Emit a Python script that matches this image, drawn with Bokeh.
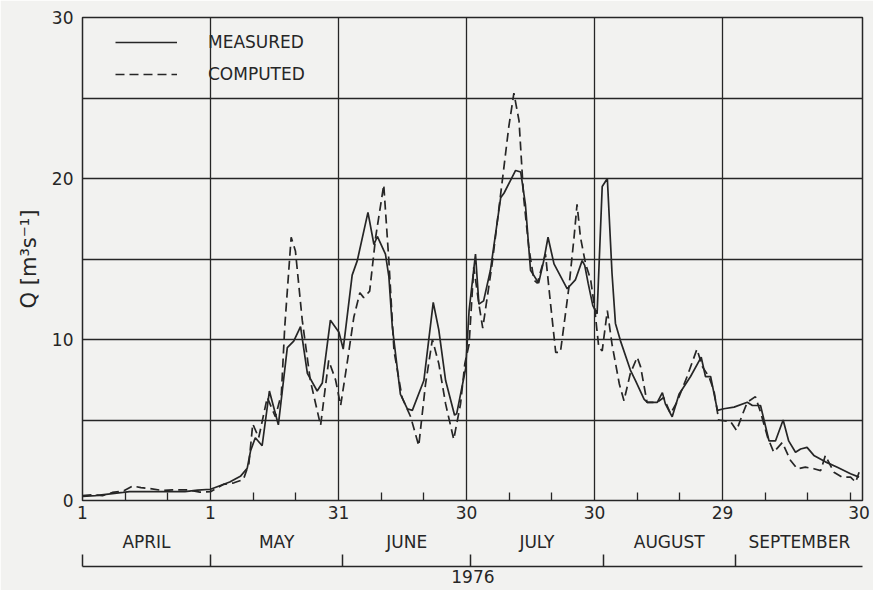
from bokeh.plotting import figure
from bokeh.models import (LinearAxis, FixedTicker, Range1d, Legend, LegendItem,
                          ColumnDataSource)
from bokeh.embed import file_html
from bokeh.resources import INLINE

# Day index: 0 = 1 April 1976
meas_day = [0, 3, 6, 9.5, 11, 16, 20, 24, 27, 30, 32.5, 34.5, 37, 38.6, 39.4, 40.5,
            42.1, 43.8, 45.9, 48, 49.5, 51.1, 52.7, 55, 56.2, 58.1, 60.1, 61.1, 63.2,
            64.4, 66.9, 68.3, 69.1, 71, 71.8, 72.6, 74.5, 76.1, 77.3, 80, 82.2, 83.5,
            85.1, 87.2, 87.7, 89.8, 90.6, 92.1, 92.9, 94, 95.6, 98, 98.8, 101.5, 102.7,
            103.8, 105, 106.9, 108.1, 109.1, 110.5, 113.6, 115.5, 117.1, 117.7, 118.5,
            119.6, 120.6, 121.8, 123, 124.1, 124.9, 126.1, 128.4, 129.6, 131.6, 132.3,
            134.7, 135.9, 136.6, 138.2, 139.8, 142.5, 145, 146, 147.2, 148.8, 150.3,
            152.7, 155.8, 157, 158.9, 160.9, 162.4, 164.2, 165.5, 167.1, 168.3, 169.8,
            171.4, 174.1, 176.9, 180, 182]
meas_q = [0.25, 0.3, 0.4, 0.5, 0.55, 0.55, 0.55, 0.55, 0.65, 0.7, 0.95, 1.15, 1.5, 2.0,
          3.1, 3.9, 3.4, 6.8, 4.7, 9.5, 9.9, 10.8, 7.9, 6.8, 7.3, 11.2, 10.45, 9.4, 14.0,
          14.9, 17.9, 15.9, 16.4, 15.3, 13.9, 10.8, 6.6, 5.7, 5.6, 7.45, 12.3, 10.6,
          7.45, 5.3, 5.4, 8.2, 11.8, 15.3, 12.2, 12.4, 14.3, 18.8, 19.1, 20.5, 20.4,
          18.4, 14.3, 13.5, 14.9, 16.35, 14.7, 13.15, 13.7, 14.9, 14.6, 13.5,
          12.1, 11.6, 19.5, 20.0, 14.1, 11.0, 9.9, 8.1, 7.45, 6.3, 6.1,
          6.1, 6.7, 6.0, 5.2, 6.6, 7.7, 8.9, 7.7, 7.7, 5.6, 5.7,
          5.8, 6.1, 5.9, 5.9, 3.7, 3.7, 5.0, 3.7, 3.0, 3.2, 3.3,
          2.8, 2.4, 2.07, 1.66, 1.45]

comp_day = [0, 2.3, 4.7, 7, 9.7, 11.8, 13.7, 15.6, 18.8, 21.1, 24.6, 27.5, 30, 33, 35.5,
            37.7, 39, 39.9, 41.3, 43.3, 45.2, 46.6, 47.4, 48.9, 49.9, 51.5, 53.4, 55.8,
            57.7, 59.3, 60.5, 62, 63.6, 65, 65.9, 67.3, 68.7, 70.6, 71.8, 73, 74.9, 76.9,
            78.8, 80.4, 82, 83.5, 85.1, 87, 88.6, 89.6, 90.6, 91.7, 92.9, 93.8, 96, 98.4,
            99.9, 101.1, 102.3, 103.4, 104.6, 105.8, 106.6, 108.5, 109.7, 110.9, 112,
            114, 115.2, 115.9, 116.7, 117.9, 119.1, 120, 121, 121.8, 123, 124.1, 125.8,
            126.9, 128.4, 130, 130.8, 132.3, 134.7, 136.2, 137.8, 139.3, 141.7, 144,
            145.3, 146.8, 148, 149.1, 151.9, 153.3, 154.6, 155.8, 157.7, 158.9, 160.6,
            162, 164, 165.9, 167.5, 169.4, 171.4, 173, 174.1, 176.1, 178, 180, 181.2, 182]
comp_q = [0.3, 0.35, 0.3, 0.5, 0.6, 0.9, 0.8, 0.75, 0.62, 0.66, 0.66, 0.52, 0.55, 1.0, 1.1,
          1.3, 2.3, 4.76, 3.9, 6.4, 5.2, 6.6, 10.8, 16.35, 15.5, 11.2, 7.45, 4.66,
          8.7, 7.5, 5.9, 8.5, 11.4, 12.9, 12.6, 13.0, 16.35, 19.6, 14.9, 9.3, 6.4, 5.2,
          3.4, 7.25, 10.0, 8.5, 6.0, 3.8, 6.0, 8.5, 9.7, 14.5, 12.2, 10.7, 14.7, 19.9,
          23.2, 25.3, 23.6, 18.8, 15.7, 13.7, 13.5, 15.3, 12.2, 9.2, 9.2,
          13.25, 16.35, 18.4, 16.35, 14.7, 13.7, 12.0, 9.5, 9.3, 11.8, 9.7, 7.25,
          6.2, 7.9, 8.9, 8.3, 6.1, 6.1, 6.4, 5.4, 6.1, 7.7, 9.4,
          8.3, 7.7, 6.8, 5.0, 4.9, 4.35, 5.3, 6.1, 6.45, 5.5, 3.9,
          3.0, 3.6, 2.5, 1.97, 2.07, 1.97, 1.86, 2.8, 1.76, 1.45, 1.45, 1.14, 1.76]

grid_days = [0, 30, 60, 90, 120, 150, 182]
grid_day_labels = ["1", "1", "31", "30", "30", "29", "30"]
minor_days = [10, 20, 40, 50, 70, 80, 100, 110, 130, 140, 160, 170, 180]
month_starts = [0, 30, 61, 91, 122, 153, 183]
month_names = ["APRIL", "MAY", "JUNE", "JULY", "AUGUST", "SEPTEMBER"]
year_label = "1976"
y_ticks = [0, 10, 20, 30]
y_grid = [5, 10, 15, 20, 25]

INK = "#262626"
PAPER = "#f2f2f0"
FONT = "DejaVu Sans"

p = figure(width=873, height=590, x_range=Range1d(0, 182.8), y_range=Range1d(0, 30),
           output_backend="svg", toolbar_location=None,
           x_axis_location=None, y_axis_location=None,
           min_border_left=82, min_border_right=11, min_border_top=17, min_border_bottom=90)
p.background_fill_color = PAPER
p.border_fill_color = PAPER
p.outline_line_color = INK
p.outline_line_width = 1.5

# grids
p.xgrid.ticker = FixedTicker(ticks=grid_days[1:-1])
p.ygrid.ticker = FixedTicker(ticks=y_grid)
for g in (p.xgrid[0], p.ygrid[0]):
    g.grid_line_color = INK
    g.grid_line_width = 1.3

# y axis
yax = LinearAxis(ticker=FixedTicker(ticks=y_ticks), axis_label="Q [m³s⁻¹]")
yax.axis_line_color = None
yax.major_tick_line_color = None
yax.major_tick_in = 0
yax.major_tick_out = 0
yax.minor_tick_line_color = None
yax.major_label_standoff = 9
yax.major_label_text_font = FONT
yax.major_label_text_font_size = "17px"
yax.major_label_text_color = INK
yax.axis_label_text_font = FONT
yax.axis_label_text_font_size = "21px"
yax.axis_label_text_font_style = "normal"
yax.axis_label_text_color = INK
yax.axis_label_standoff = 8
p.add_layout(yax, "left")

# day axis
dax = LinearAxis(ticker=FixedTicker(ticks=grid_days, minor_ticks=minor_days))
dax.major_label_overrides = {d: s for d, s in zip(grid_days, grid_day_labels)}
dax.axis_line_color = None
dax.major_tick_line_color = None
dax.major_tick_in = 0
dax.major_tick_out = 0
dax.minor_tick_line_color = INK
dax.minor_tick_line_width = 1.3
dax.minor_tick_in = 8
dax.minor_tick_out = 0
dax.major_label_standoff = 5
dax.major_label_text_font = FONT
dax.major_label_text_font_size = "17px"
dax.major_label_text_color = INK
p.add_layout(dax, "below")

# month axis
mids = [(a + b) / 2 for a, b in zip(month_starts[:-1], month_starts[1:])]
max_ = LinearAxis(ticker=FixedTicker(ticks=mids))
max_.major_label_overrides = {m: s for m, s in zip(mids, month_names)}
max_.axis_line_color = None
max_.major_tick_line_color = None
max_.major_tick_in = 0
max_.major_tick_out = 0
max_.minor_tick_line_color = None
max_.major_label_standoff = 10
max_.major_label_text_font = FONT
max_.major_label_text_font_size = "17px"
max_.major_label_text_color = INK
max_.axis_label = " "
max_.axis_label_text_font_size = "8px"
max_.axis_label_standoff = 0
p.add_layout(max_, "below")

# bracket axis with year
mid_all = (month_starts[0] + month_starts[-1]) / 2
bax = LinearAxis(ticker=FixedTicker(ticks=[mid_all], minor_ticks=month_starts))
bax.major_label_overrides = {mid_all: year_label}
bax.axis_line_color = INK
bax.axis_line_width = 1.5
bax.major_tick_line_color = None
bax.major_tick_in = 0
bax.major_tick_out = 0
bax.minor_tick_line_color = INK
bax.minor_tick_line_width = 1.5
bax.minor_tick_in = 12
bax.minor_tick_out = 0
bax.major_label_standoff = 3
bax.major_label_text_font = FONT
bax.major_label_text_font_size = "17px"
bax.major_label_text_color = INK
p.add_layout(bax, "below")

src_m = ColumnDataSource(dict(day=meas_day, q=meas_q))
src_c = ColumnDataSource(dict(day=comp_day, q=comp_q))
r_m = p.line("day", "q", source=src_m, line_color=INK, line_width=1.7)
r_c = p.line("day", "q", source=src_c, line_color=INK, line_width=1.7, line_dash="9 5")

legend = Legend(items=[LegendItem(label="MEASURED", renderers=[r_m]),
                       LegendItem(label="COMPUTED", renderers=[r_c])],
                location=(33, 416), padding=0, margin=0, spacing=12,
                glyph_width=62, glyph_height=20, label_height=20, label_standoff=31,
                border_line_color=None, background_fill_alpha=0,
                label_text_font=FONT, label_text_font_size="17px", label_text_color=INK)
p.add_layout(legend)

open("out.html", "w").write(file_html(p, INLINE))
